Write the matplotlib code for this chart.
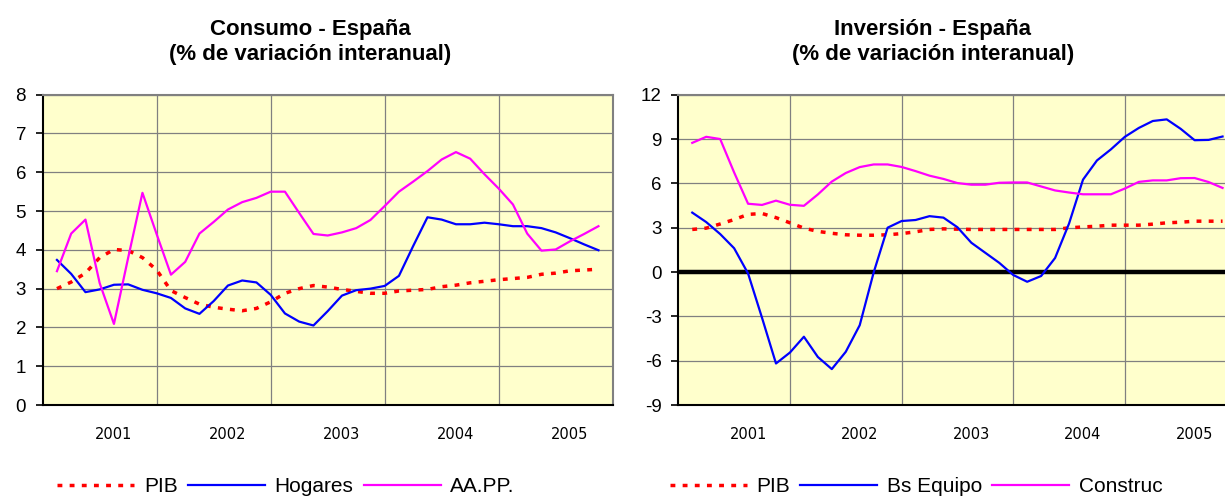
import numpy as np
import matplotlib
matplotlib.use("Agg")
import matplotlib.pyplot as plt

# eje temporal en meses desde mediados de 2000 (un punto cada mes y medio)
meses = np.arange(1.5, 60, 1.5)
anios = ["2001", "2002", "2003", "2004", "2005"]

# Consumo - España
pib_c = [3.00, 3.17, 3.40, 3.80, 4.01, 3.98, 3.80, 3.48, 2.95, 2.77, 2.60, 2.52, 2.47,
         2.43, 2.49, 2.66, 2.88, 3.00, 3.08, 3.04, 2.98, 2.93, 2.88, 2.88, 2.94, 2.96,
         2.98, 3.05, 3.09, 3.15, 3.19, 3.23, 3.26, 3.29, 3.37, 3.40, 3.46, 3.48, 3.50]
hogares = [3.74, 3.38, 2.91, 2.98, 3.10, 3.11, 2.97, 2.88, 2.76, 2.49, 2.35, 2.68, 3.08,
           3.21, 3.16, 2.84, 2.36, 2.15, 2.05, 2.42, 2.82, 2.96, 3.00, 3.07, 3.33, 4.10,
           4.84, 4.78, 4.66, 4.66, 4.70, 4.66, 4.61, 4.61, 4.56, 4.45, 4.30, 4.14, 3.99]
aapp = [3.45, 4.42, 4.78, 3.14, 2.09, 3.80, 5.47, 4.40, 3.36, 3.69, 4.42, 4.72, 5.04,
        5.23, 5.34, 5.50, 5.50, 4.95, 4.41, 4.37, 4.45, 4.56, 4.77, 5.13, 5.50, 5.76,
        6.03, 6.33, 6.52, 6.35, 5.95, 5.58, 5.17, 4.42, 3.98, 4.01, 4.22, 4.41, 4.61]

# Inversión - España
pib_i = [2.88, 2.97, 3.25, 3.55, 3.90, 3.96, 3.68, 3.33, 2.97, 2.75, 2.62, 2.52, 2.49,
         2.49, 2.52, 2.60, 2.72, 2.88, 2.92, 2.90, 2.88, 2.88, 2.88, 2.88, 2.88, 2.88,
         2.88, 2.99, 3.05, 3.10, 3.17, 3.17, 3.17, 3.24, 3.33, 3.37, 3.44, 3.44, 3.44]
equipo = [4.02, 3.38, 2.57, 1.61, -0.10, -3.10, -6.19, -5.45, -4.38, -5.75, -6.57, -5.40, -3.60,
          -0.03, 3.00, 3.45, 3.52, 3.78, 3.68, 3.03, 1.98, 1.30, 0.62, -0.20, -0.66, -0.27,
          0.95, 3.28, 6.25, 7.55, 8.30, 9.15, 9.75, 10.22, 10.33, 9.69, 8.92, 8.94, 9.17]
construc = [8.74, 9.15, 9.00, 6.74, 4.62, 4.54, 4.83, 4.55, 4.48, 5.25, 6.12, 6.70, 7.10,
            7.28, 7.28, 7.11, 6.83, 6.52, 6.30, 6.02, 5.91, 5.91, 6.04, 6.06, 6.06, 5.79,
            5.52, 5.38, 5.26, 5.26, 5.26, 5.65, 6.10, 6.20, 6.20, 6.35, 6.36, 6.09, 5.69]

ROJO, AZUL, MAGENTA = "#FF0000", "#0000FF", "#FF00FF"
FONDO = "#FFFFCC"
GRIS = "#808080"
punteado = (0, (1.4, 2.1))

fig = plt.figure(figsize=(12.25, 4.99), dpi=100)
W, H = 1225, 499


def preparar(ax, yticks):
    ax.set_facecolor(FONDO)
    ax.set_xlim(0, 60)
    ax.set_ylim(yticks[0], yticks[-1])
    ax.set_yticks(yticks)
    ax.set_yticklabels([str(v) for v in yticks], fontsize=13.5, family="Liberation Sans")
    ax.set_xticks([12, 24, 36, 48], minor=False)
    ax.xaxis.grid(True, color=GRIS, lw=0.9)
    ax.yaxis.grid(True, color=GRIS, lw=0.9)
    ax.set_axisbelow(True)
    ax.tick_params(axis="x", which="major", length=0, labelbottom=False)
    # etiquetas de año centradas en el tercer trimestre de cada año
    ax.set_xticks([7.5 + 12 * i for i in range(len(anios))], minor=True)
    ax.set_xticklabels(anios, minor=True, fontsize=10.5, family="DejaVu Sans")
    ax.tick_params(axis="x", which="minor", length=0, pad=16)
    ax.tick_params(axis="y", length=5, width=1.2, pad=7, direction="out")
    for lado in ["top", "right"]:
        ax.spines[lado].set_color(GRIS)
        ax.spines[lado].set_linewidth(1.5)
    for lado in ["left", "bottom"]:
        ax.spines[lado].set_color("black")
        ax.spines[lado].set_linewidth(1.5)


# ---- Consumo ----
ax1 = fig.add_axes([42.7 / W, (H - 405) / H, 570 / W, 310.3 / H])
preparar(ax1, list(range(0, 9)))
ax1.plot(meses, pib_c, color=ROJO, lw=2.5, ls=punteado, label="PIB")
ax1.plot(meses, hogares, color=AZUL, lw=1.6, label="Hogares")
ax1.plot(meses, aapp, color=MAGENTA, lw=1.6, label="AA.PP.")

# ---- Inversión ----
ax2 = fig.add_axes([678.3 / W, (H - 405) / H, 558.2 / W, 310.3 / H])
preparar(ax2, list(range(-9, 13, 3)))
ax2.axhline(0, color="black", lw=3.2, zorder=2)
ax2.plot(meses, pib_i, color=ROJO, lw=2.5, ls=punteado, label="PIB", zorder=3)
ax2.plot(meses, equipo, color=AZUL, lw=1.6, label="Bs Equipo", zorder=3)
ax2.plot(meses, construc, color=MAGENTA, lw=1.6, label="Construc", zorder=3)

# títulos
for xc, titulo in [(310, "Consumo - España"), (933, "Inversión - España")]:
    fig.text(xc / W, 1 - 35 / H, titulo, ha="center", va="baseline",
             fontsize=16, fontweight="bold", family="Liberation Sans")
    fig.text(xc / W, 1 - 60 / H, "(% de variación interanual)", ha="center", va="baseline",
             fontsize=16, fontweight="bold", family="Liberation Sans")

# leyendas
fuente_ley = {"family": "Liberation Sans", "size": 15}
for ax, xc in [(ax1, 286), (ax2, 916)]:
    h, l = ax.get_legend_handles_labels()
    fig.legend(h, l, loc="center", bbox_to_anchor=(xc / W, 1 - 487 / H), ncol=3,
               frameon=False, prop=fuente_ley, handlelength=3.7, handletextpad=0.45,
               columnspacing=0.5, borderaxespad=0, borderpad=0)

fig.savefig("out.png", dpi=100)
